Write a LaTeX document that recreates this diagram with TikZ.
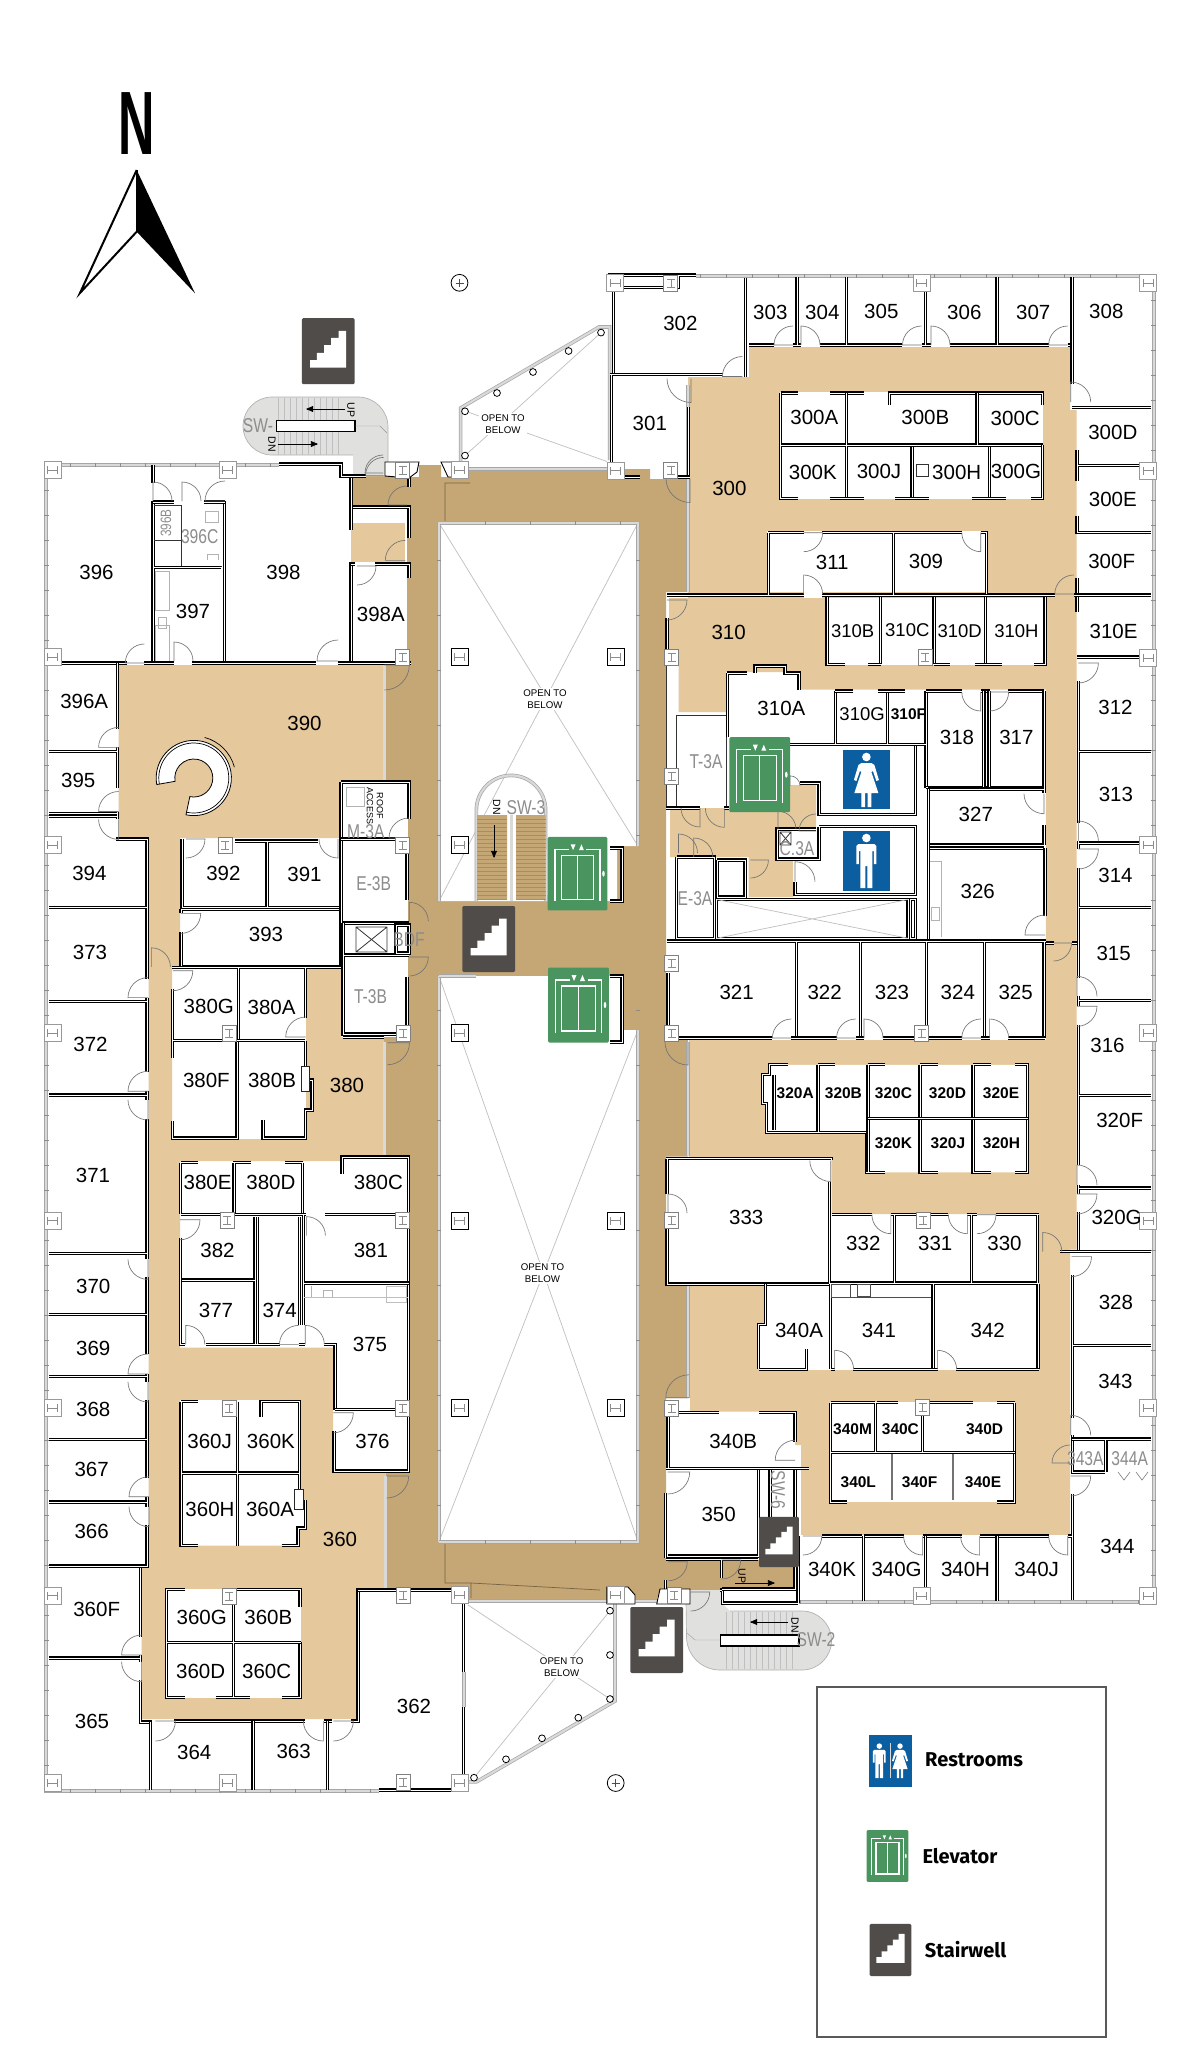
\documentclass[tikz,border=0pt]{standalone}
\usepackage{fontspec}
\setmainfont{Liberation Sans}
\newfontfamily\narrowfont[FakeStretch=0.78]{Liberation Sans}
\newfontfamily\legendfont{Fira Sans}
\usepackage{tikz}
\usetikzlibrary{arrows}
\definecolor{tanfloor}{HTML}{E5C99D}
\definecolor{brownfloor}{HTML}{C5A675}
\definecolor{stairgrey}{HTML}{504C4A}
\definecolor{elevgreen}{HTML}{4A9460}
\definecolor{restblue}{HTML}{0B5E9F}
\definecolor{stairbg}{HTML}{E0E0DE}
\tikzset{
  wall/.style={draw=black,line width=1.15,double=white,double distance=0.9},
  thinwall/.style={draw=black!80,line width=0.8},
  fixture/.style={draw=black!30,line width=0.6},
  bandline/.style={draw=brownfloor!60!black,line width=0.7},
  curtain/.style={draw=black!35,line width=0.7,double=black!15,double distance=2.2},
  tickmark/.style={draw=black!45,line width=1},
  doorline/.style={draw=black!55,line width=0.65},
  diag/.style={draw=black!25,line width=0.7},
  room/.style={inner sep=0pt,font=\fontsize{20.5}{22}\selectfont},
  roomsm/.style={inner sep=0pt,font=\fontsize{18.5}{20}\selectfont},
  roombf/.style={inner sep=0pt,font=\fontsize{15.5}{18}\selectfont\bfseries},
  tag/.style={inner sep=0pt,text=black!45,font=\fontsize{20}{22}\selectfont\narrowfont},
  openlabel/.style={inner sep=2pt,fill=white,align=center,font=\fontsize{9.7}{11.9}\selectfont},
  stairnote/.style={inner sep=0pt,font=\fontsize{10.5}{11}\selectfont},
  legendtext/.style={inner sep=0pt,anchor=west,font=\fontsize{20}{22}\selectfont\legendfont\bfseries},
}
\newcommand{\door}[5]{\draw[doorline] (#1,#2) -- ++(#3:#5) arc[start angle=#3,end angle=#4,radius=#5];}
\newcommand{\colH}[3][black!40]{\draw[fill=white,draw=#1,line width=0.8] (#2-8.5,#3-8.5) rectangle (#2+8.5,#3+8.5);
  \draw[black!45,line width=0.5] (#2-5,#3-4) -- (#2-5,#3+4) (#2+5,#3-4) -- (#2+5,#3+4) (#2-5,#3) -- (#2+5,#3);}
\newcommand{\colI}[2]{\draw[fill=white,draw=black!50,line width=0.8] (#1-7,#2-8) rectangle (#1+7,#2+8);
  \draw[black!45,line width=0.5] (#1-4,#2-4) -- (#1+4,#2-4) (#1-4,#2+4) -- (#1+4,#2+4) (#1,#2-4) -- (#1,#2+4);}
\newcommand{\ring}[2]{\draw[black,line width=0.8,fill=white] (#1,#2) circle (3.4);}
\newcommand{\stairicon}[3]{\begin{scope}[shift={(#1,#2)},scale=#3]
  \fill[stairgrey,rounded corners=1.2] (-26.3,-33) rectangle (26.3,33);
  \fill[white] (-18,16.3) -- (-18,9) -- (-11.3,9) -- (-11.3,1.7) -- (-4,1.7) -- (-4,-6) -- (3,-6) -- (3,-13.3) -- (10.3,-13.3) -- (10.3,-20.3) -- (18,-20.3) -- (18,16.3) -- cycle;
  \end{scope}}
\newcommand{\elevicon}[3]{\begin{scope}[shift={(#1,#2)},scale=#3]
  \fill[elevgreen,rounded corners=1.2] (-30.4,-37.5) rectangle (30.4,37.5);
  \draw[white,line width=1.1] (-16.7,-19) rectangle (16.7,26) (0,-19) -- (0,26);
  \draw[white,line width=1.1] (-23,28) -- (-23,-25) -- (-9,-25) (9,-25) -- (23,-25) -- (23,28);
  \fill[white] (-7,-30) -- (-2,-30) -- (-4.5,-24) -- cycle (1.5,-24) -- (6.5,-24) -- (4,-30) -- cycle;
  \fill[white] (26.5,0) ellipse (1.3 and 3);
  \end{scope}}
\newcommand{\manfig}[3]{\begin{scope}[shift={(#1,#2)},scale=#3]
  \fill[white] (0,-23) circle (4.3);
  \fill[white] (-8,-17) -- (8,-17) -- (10,-15) -- (10,3) -- (7.5,3) -- (7.5,-10) -- (6,-10) -- (6,27) -- (1,27) -- (1,5) -- (-1,5) -- (-1,27) -- (-6,27) -- (-6,-10) -- (-7.5,-10) -- (-7.5,3) -- (-10,3) -- (-10,-15) -- cycle;
  \end{scope}}
\newcommand{\womanfig}[3]{\begin{scope}[shift={(#1,#2)},scale=#3]
  \fill[white] (0,-23) circle (4.3);
  \fill[white] (-5,-17) -- (5,-17) -- (8,-15) -- (12.5,0) -- (10,1) -- (6.5,-9) -- (5,-8) -- (12,13) -- (5,13) -- (5,27) -- (1.2,27) -- (1.2,13) -- (-1.2,13) -- (-1.2,27) -- (-5,27) -- (-5,13) -- (-12,13) -- (-5,-8) -- (-6.5,-9) -- (-10,1) -- (-12.5,0) -- (-8,-15) -- cycle;
  \end{scope}}
\begin{document}
\begin{tikzpicture}[x=1pt,y=-1pt,>=triangle 45]
\useasboundingbox (0,0) rectangle (1200,2067);
\fill[white] (0,0) rectangle (1200,2067);
% floors
\fill[brownfloor] (407,477) -- (419,477) -- (419,465) -- (441,465) -- (441,477) -- (468,477) -- (468,469) -- (650,469) -- (650,479) -- (688,479) -- (688,592) -- (666,592) -- (666,1040) -- (688,1040) -- (688,1156.5) -- (666,1156.5) -- (666,1285) -- (688,1285) -- (688,1398) -- (666,1398) -- (666,1560) -- (795,1560) -- (795,1590) -- (660,1590) -- (656,1601) -- (467,1601) -- (467,1590) -- (385.5,1590) -- (385.5,1472) -- (409,1472) -- (409,1156) -- (384,1156) -- (384,1037) -- (408,1037) -- (408,782) -- (384,782) -- (384,665) -- (407,665) -- cycle;
\fill[brownfloor] (353,475) rectangle (407,507);
\draw[bandline] (445,523) -- (445,483) -- (470,483) (445,1543) -- (445,1583) -- (471,1583) -- (471,1598) (471,1583) -- (600,1590);
\fill[tanfloor] (351,523) rectangle (405,562);
\fill[tanfloor] (118.6,665) -- (384,665) -- (384,782) -- (341,782) -- (341,838) -- (180,838) -- (180,969) -- (172,969) -- (172,1139) -- (306,1139) -- (306,969) -- (341,969) -- (341,1037) -- (384,1037) -- (384,1156) -- (341,1156) -- (341,1161) -- (180,1161) -- (180,1347.6) -- (333,1347.6) -- (333,1473) -- (385.5,1473) -- (385.5,1590) -- (358,1590) -- (358,1719) -- (141.6,1719) -- (141.6,1566) -- (148.5,1566) -- (148.5,838) -- (118.6,838) -- cycle;
\fill[tanfloor] (749,347) -- (1070,347) -- (1070,410) -- (1076.5,410) -- (1076.5,1249.5) -- (1070,1249.5) -- (1070,1534.8) -- (801,1534.8) -- (801,1445) -- (795,1445) -- (795,1411.6) -- (690,1411.6) -- (690,1285) -- (764.6,1285) -- (764.6,1324.6) -- (758.8,1324.6) -- (758.8,1370) -- (1039,1370) -- (1039,1214) -- (831.5,1214) -- (831.5,1158.5) -- (689,1158.5) -- (689,1040) -- (1045.8,1040) -- (1045.8,689.7) -- (799,689.7) -- (799,672) -- (726,672) -- (726,712) -- (678.5,712) -- (678.5,653) -- (669,653) -- (669,598) -- (688,598) -- (688,377) -- (749,377) -- cycle;
\fill[tanfloor] (670,808) -- (790,808) -- (790,785) -- (816,785) -- (816,829) -- (777,829) -- (777,860) -- (793,860) -- (793,897) -- (748.5,897) -- (748.5,857) -- (670,857) -- cycle;
% rooms cut out of the floors
\fill[white] (180,1400) -- (299,1400) -- (299,1500) -- (305.7,1500) -- (305.7,1528) -- (299,1528) -- (299,1545.7) -- (180,1545.7) -- cycle;
\fill[white] (166.7,1589.3) rectangle (301,1697.7);
\fill[white] (779.9,392) rectangle (1043,499);
\fill[white] (767,530.7) rectangle (986.5,592);
\fill[white] (803.6,592) rectangle (822,598);
\fill[white] (825.8,598) rectangle (1045.8,665);
\fill[white] (769.2,1064.8) -- (1027.5,1064.8) -- (1027.5,1172.4) -- (866.7,1172.4) -- (866.7,1132.8) -- (766.5,1132.8) -- (766.5,1103.2) -- (762.6,1103.2) -- (762.6,1074.7) -- (769.2,1074.7) -- cycle;
\fill[white] (829.6,1401.7) rectangle (1015.2,1502);
% atria
\fill[white] (439,523) -- (638,523) -- (638,846) -- (617,846) -- (617,901) -- (439,901) -- cycle;
\fill[white] (439,976) -- (622,976) -- (622,1030) -- (638,1030) -- (638,1541.7) -- (439,1541.7) -- cycle;
\draw[diag] (439,523) -- (638,846) (638,523) -- (439,901);
\draw[diag] (439,976) -- (638,1541.7) (638,1030) -- (439,1541.7);
\draw[diag] (465,411) -- (607,461.5) (465,455.6) -- (601,332.6);
\draw[diag] (468,1605) -- (610,1699) (474,1777.7) -- (610,1610.7);
% stair halls
\fill[stairbg] (272,397) -- (358,397) arc[start angle=270,end angle=360,radius=30] -- (388,476) -- (353,476) -- (353,455) -- (272,455) arc[start angle=90,end angle=270,radius=29] -- cycle;
\draw[black!30,line width=0.7] (272,397) -- (358,397) arc[start angle=270,end angle=360,radius=30] -- (388,476) (353,455) -- (272,455) arc[start angle=90,end angle=270,radius=29];
\foreach \t in {278,284,...,343} \draw[black!25,line width=0.5] (\t,398) -- (\t,455);
\draw[fill=white,draw=black,line width=1.4] (276.7,420.7) rectangle (355,431.7);
\draw[black!40] (355,426) -- (380,426) -- (387,433);
\fill[stairbg] (690,1590) -- (722,1590) -- (722,1603) -- (730,1611) -- (802,1611) arc[start angle=270,end angle=450,radius=29.5] -- (720,1670) arc[start angle=90,end angle=180,radius=33.5] -- (686,1600) -- cycle;
\draw[black!30,line width=0.7] (730,1611) -- (802,1611) arc[start angle=270,end angle=450,radius=29.5] -- (720,1670) arc[start angle=90,end angle=180,radius=33.5] -- (686,1600);
\foreach \t in {726,732,...,797} \draw[black!25,line width=0.5] (\t,1612) -- (\t,1669);
\draw[fill=white,draw=black,line width=1.4] (720.5,1635) rectangle (799,1646);
\draw[black!40] (720,1640) -- (695,1640) -- (687,1633);
% centre stair
\draw[curtain] (476.4,901) -- (476.4,810) arc[start angle=180,end angle=360,radius=34.6] -- (545.7,901);
\fill[brownfloor] (477,815) rectangle (507,899.5) (516,815) rectangle (545.7,899.5);
\foreach \t in {819,823,...,899} \draw[brownfloor!85!black,line width=0.3] (477,\t) -- (507,\t) (516,\t) -- (545.7,\t);
\draw[curtain] (511.5,815) -- (511.5,901);
\draw[->,line width=0.6] (494,825) -- (494,858);
% curtain walls
\draw[curtain] (46,465) -- (279,465) (46,465) -- (46,1791) -- (378.8,1791);
\draw[curtain] (696,276) -- (1154,276) -- (1154,1602) -- (799,1602);
\draw[curtain] (460.6,463) -- (460.6,408) -- (599,327) -- (609.6,327) -- (609.6,460);
\draw[curtain] (615,1604) -- (615,1701) -- (476.7,1781.7) -- (467,1781.7);
\draw[curtain] (439,1541.7) -- (439,976) (439,901) -- (439,523) -- (638,523) -- (638,846);
\draw[curtain] (439,976) -- (476,976) (439,1541.7) -- (638,1541.7) -- (638,1030);
\draw[curtain] (384.5,665) -- (384.5,782) (384.5,1042) -- (384.5,1156) (385.5,1476) -- (385.5,1590);
\draw[curtain] (688,385) -- (688,592) (688,1042) -- (688,1156) (688,1285) -- (688,1398);
\draw[curtain] (468,469) -- (607,469) (468,1601) -- (607,1601) (635,1601) -- (657,1601);
\foreach \t in {490,515,...,1780} \draw[tickmark] (44,\t) -- (49,\t);
\foreach \t in {300,325,...,1590} \draw[tickmark] (1151,\t) -- (1156,\t);
\foreach \t in {70,95,...,270} \draw[tickmark] (\t,463) -- (\t,467);
\foreach \t in {70,95,...,370} \draw[tickmark] (\t,1789) -- (\t,1793);
\foreach \t in {700,726,...,1150} \draw[tickmark] (\t,274) -- (\t,278);
\foreach \t in {800,826,...,1150} \draw[tickmark] (\t,1600) -- (\t,1604);
\foreach \t in {560,615,...,840,1010,1065,...,1530} \draw[tickmark] (437,\t) -- (441,\t) (636,\t) -- (640,\t);
\foreach \t in {485,530,...,620} \draw[tickmark] (\t,521) -- (\t,525) (\t,1540) -- (\t,1544);
% fixtures
\draw[fixture] (155,571) rectangle (169,610) (155,625) rectangle (169,661) (158,617) rectangle (166,628);
\draw[fixture] (205,511) rectangle (218,522) (207,560) -- (207,554) -- (218,554) -- (218,560);
\draw[fixture] (929,861) -- (941,861) -- (941,937) (931,907) rectangle (939,920);
\draw[fixture] (346,787) rectangle (364,806);
\draw[fixture] (323,1290) rectangle (332,1297) (311,1286) -- (311,1297);
% west wing walls
\draw[wall] (279,464) -- (341,464) -- (341,476) -- (351,476) -- (351,530);
\draw[wall] (351,562) -- (351,663);
\draw[wall] (351,564) -- (355,564) (375,564) -- (409,564) -- (409,578);
\draw[wall] (353,507) -- (409,507) -- (409,538) (409,475) -- (409,487);
\draw[wall] (351,476) -- (366,476);
\draw[wall] (46,663) -- (126.5,663) (144,663) -- (174,663) (192,663) -- (316,663) (338,663) -- (411,663);
\draw[wall] (153,465) -- (153,483) (153,501) -- (153,661) (224.6,501) -- (224.6,661);
\draw[wall] (153,502) -- (174,502) (203.6,502) -- (224.6,502);
\draw[thinwall] (154,505) -- (181,505) -- (181,540.6) -- (154,540.6) (181,540) -- (181,566) -- (222,566);
\draw[wall] (154,567.5) -- (221,567.5);
\draw[wall] (117.4,663) -- (117.4,728.5) (117.4,747.4) -- (117.4,787.8) (117.4,811.5) -- (117.4,819.4);
\draw[wall] (49,751.4) -- (117,751.4) (49,813.5) -- (117,813.5) (49,816.6) -- (117,816.6);
\draw[wall] (116,839) -- (147,839) -- (147,978.6);
\draw[wall] (147,997.6) -- (147,1072) (147,1091) -- (147,1100) (147,1119) -- (147,1259.4) (147,1277) -- (147,1353.5) (147,1374) -- (147,1382) (147,1400) -- (147,1478) (147,1497) -- (147,1507) (147,1525) -- (147,1566) -- (140.4,1566);
\draw[wall] (140.4,1566) -- (140.4,1637) (140.4,1655) -- (140.4,1662) (140.4,1680) -- (140.4,1722) -- (152,1722);
\draw[wall] (174,1721) -- (304.5,1721) (323.5,1721) -- (332,1721) (351,1721) -- (358,1721) -- (358,1590) -- (385.5,1590);
\draw[wall] (49,907.4) -- (147,907.4) (49,1001.6) -- (147,1001.6) (49,1095) -- (147,1095) (49,1253.4) -- (147,1253.4) (49,1314.7) -- (147,1314.7) (49,1376.8) -- (147,1376.8) (49,1439.3) -- (147,1439.3) (49,1502) -- (147,1502) (49,1566) -- (147,1566) (49,1658) -- (140,1658);
\draw[wall] (150.6,1722) -- (150.6,1790) (253,1721) -- (253,1790) (327.4,1721) -- (327.4,1790);
% 392 to T-3B
\draw[wall] (182,839) -- (182,861) (182,861) -- (182,907.4) -- (341,907.4) (267,841) -- (267,907.4) (235,841) -- (318,841);
\draw[wall] (181,909.4) -- (341,909.4) (181,909.4) -- (181,913) (181,932) -- (181,967) -- (341,967);
\draw[wall] (341,838) -- (341,969) (341,782) -- (409,782) -- (409,819.4) (341,782) -- (341,838);
\draw[wall] (341,839) -- (409,839) (343,923) -- (409,923) (407,839) -- (407,899.5);
\draw[wall] (343,955) -- (409,955) (343,923) -- (343,955) (343,955) -- (343,1034) -- (407,1034) -- (407,977);
\draw[thinwall] (356,927) rectangle (387,952) (356,927) -- (387,952) (387,927) -- (356,952);
\draw[wall] (396,925) rectangle (409,953);
\draw[wall] (343,1037) -- (384,1037);
% 380 group
\draw[wall] (172,967.5) -- (341,967.5) (238.4,967.5) -- (238.4,1040) (305.2,967.5) -- (305.2,1018);
\draw[wall] (172.8,988.5) -- (172.8,1057.7) (172.8,1121) -- (172.8,1138) -- (237,1138) -- (237,1040);
\draw[wall] (172.8,1040.7) -- (305.2,1040.7) (263,1120) -- (263,1138) -- (305.2,1138) -- (305.2,1110) -- (312,1110) -- (312,1080) -- (308,1080);
\draw[wall] (305.2,1040.7) -- (305.2,1066);
\draw[fill=white,draw=black!85,line width=0.8] (301,1066) rectangle (309,1091);
\draw[wall] (180.7,1162.5) -- (198,1162.5) (233,1162.5) -- (251,1162.5) (285,1162.5) -- (302.5,1162.5);
\draw[wall] (180.7,1162.5) -- (180.7,1214) (180.7,1237.6) -- (180.7,1344.4) -- (185,1344.4) (205.6,1344.4) -- (279.6,1344.4);
\draw[wall] (234,1162.5) -- (234,1214) (302.5,1162.5) -- (302.5,1214);
\draw[wall] (180.7,1214.7) -- (306,1214.7) (325,1214.7) -- (408.5,1214.7);
\draw[wall] (342,1174) -- (342,1157) -- (408.5,1157) -- (408.5,1409.6);
\draw[wall] (303.7,1214.7) -- (303.7,1325) (303.7,1283) -- (408.5,1283);
\draw[wall] (255,1217) -- (255,1344) (182,1280) -- (255,1280) (299.3,1217) -- (299.3,1325) (257,1217) -- (257,1344);
\draw[wall] (298.5,1344.4) -- (305.3,1344.4) (324,1344.4) -- (335,1344.4) -- (335,1409.6);
\draw[wall] (335,1409.6) -- (408.5,1409.6) -- (408.5,1471) -- (334,1471) -- (334,1431);
\draw[black!25,line width=0.6] (304,1297) -- (408,1297) (386,1286) rectangle (406,1302);
% 360 block
\draw[wall] (181,1401.7) -- (198,1401.7) (261,1417) -- (261,1401.7) -- (299.3,1401.7) -- (299.3,1489);
\draw[wall] (181,1401.7) -- (181,1545.7) -- (198,1545.7) (237.2,1401.7) -- (237.2,1545.7) (181,1473) -- (298.5,1473);
\draw[wall] (281.7,1545.7) -- (298,1545.7) -- (298,1528) -- (305.7,1528) -- (305.7,1500);
\draw[fill=white,draw=black!85,line width=0.8] (294.6,1489) rectangle (303.7,1509);
\draw[wall] (185,1589.3) -- (166.7,1589.3) -- (166.7,1697.7) -- (185,1697.7);
\draw[wall] (223,1589.3) -- (300,1589.3) -- (300,1607) (300,1642) -- (300,1697.7) -- (282,1697.7);
\draw[wall] (166.7,1642.7) -- (301,1642.7) (233.3,1589.3) -- (233.3,1697.7) (215.7,1697.7) -- (250,1697.7);
% 362
\draw[wall] (358,1590) -- (467,1590);
\draw[wall] (463.8,1603) -- (463.8,1672) (463.8,1706.7) -- (463.8,1776.7);
\draw[curtain] (463.8,1672) -- (463.8,1706.7);
\draw[wall] (378.8,1790) -- (467.8,1790);
% north-east rooms
\draw[wall] (607.6,275) -- (696,275) (678.5,275) -- (678.5,287.6) -- (613.4,287.6) -- (613.4,372.6);
\draw[wall] (745.4,277.7) -- (745.4,376.5) (609.6,374.6) -- (723,374.6);
\draw[wall] (611.5,375) -- (611.5,465) (688.8,407) -- (688.8,475);
\draw[wall] (610,477) -- (640,477) (665,477) -- (690,477);
\draw[wall] (749,345) -- (774,345) (793,345) -- (801,345) (820,345) -- (902.3,345) (921.5,345) -- (931,345) (950,345) -- (1048.5,345) (1067.7,345) -- (1072,345);
\draw[wall] (797,277) -- (797,345) (846.8,277) -- (846.8,345) (925.3,277) -- (925.3,345) (997,277) -- (997,345) (1072,277) -- (1072,384.4);
\draw[wall] (1072,407.4) -- (1151,407.4) (1077,450) -- (1077,481) (1077,465.5) -- (1151,465.5) (1077,515.7) -- (1077,532.7) -- (1151,532.7);
\draw[wall] (1077,578) -- (1077,612);
\draw[wall] (667,595) -- (803.6,595) (822,595) -- (1055.4,595) (1073.8,595) -- (1151,595);
\draw[wall] (1077,657) -- (1151,657) (1078.4,681) -- (1078.4,822.6) (1078.4,751.4) -- (1151,751.4) (1078.4,841) -- (1078.4,849) (1078.4,843) -- (1151,843);
\draw[wall] (1078.4,868) -- (1078.4,978) (1078.4,907.5) -- (1151,907.5) (1078.4,996.4) -- (1078.4,1006) (1078.4,1000.4) -- (1151,1000.4) (1078.4,1025) -- (1078.4,1165) (1078.4,1095.3) -- (1151,1095.3);
\draw[wall] (1078.4,1185) -- (1078.4,1194) (1078.4,1188) -- (1151,1188) (1078.4,1212) -- (1078.4,1249.5) (1060,1251.5) -- (1151,1251.5);
\draw[wall] (1072.6,1275) -- (1072.6,1417.5) (1072.6,1345.6) -- (1151,1345.6) (1072.6,1435) -- (1072.6,1472) -- (1105,1472);
\draw[wall] (1072,1439) -- (1151,1439) (1105.9,1439) -- (1105.9,1472) (1072.6,1494) -- (1072.6,1600);
\draw[black!50,line width=0.6] (1118,1472) -- (1124,1480) -- (1130,1472) (1136,1472) -- (1142,1480) -- (1148,1472);
\draw[wall] (822,1536) -- (862,1536) (864,1536) -- (904,1536) (923.4,1536) -- (961.6,1536) (979.6,1536) -- (1048.5,1536) (1067.7,1536) -- (1072,1536);
\draw[wall] (863.3,1536) -- (863.3,1601) (925.3,1536) -- (925.3,1601) (997,1536) -- (997,1601) (798,1536) -- (798,1603);
% 300 block
\draw[wall] (780.6,393) -- (798,393) (830,393) -- (864,393) (889.7,405) -- (889.7,393) -- (1042.8,393) -- (1042.8,405);
\draw[wall] (780.6,393) -- (780.6,498.3) -- (798,498.3) (846.8,393) -- (846.8,498.3) (780.6,445) -- (1043,445) (977,393) -- (977,445);
\draw[wall] (1042.8,445) -- (1042.8,498.3) -- (1031,498.3) (912,447) -- (912,498.3) (989.2,447) -- (989.2,498.3);
\draw[wall] (830,498.3) -- (864,498.3) (895,498.3) -- (929,498.3) (972,498.3) -- (1006,498.3);
\draw[thinwall] (916,464.5) rectangle (928,476.5);
% 311 block
\draw[wall] (768.4,532.7) -- (803.6,532.7) (822,532.7) -- (961.6,532.7) (980.8,532.7) -- (986.5,532.7) -- (986.5,594);
\draw[wall] (768.4,532.7) -- (768.4,595) (893.5,532.7) -- (893.5,595);
% 310 block
\draw[wall] (827,597) -- (827,664.4) -- (845,664.4) (880.5,597) -- (880.5,664.4) (934,597) -- (934,664.4) (985.4,597) -- (985.4,664.4) (1045,597) -- (1045,664.4) -- (1034,664.4);
\draw[wall] (868,664.4) -- (880.5,664.4) (934,664.4) -- (950,664.4) (975,664.4) -- (1002,664.4);
\draw[wall] (667,618) -- (667,655);
\draw[thinwall] (666,655) -- (666,808) (676.5,805.5) -- (676.5,715.8) -- (726.3,715.8) -- (726.3,805.5);
\draw[wall] (666,808) -- (700,808) (724.4,808) -- (729,808);
% 310A and washrooms
\draw[wall] (727.4,673) -- (747,673) (727.4,673) -- (727.4,737) (755,673) -- (755,666) -- (785,666) -- (785,673) -- (799,673) -- (799,690);
\draw[wall] (790,744.3) -- (926,744.3) (835.4,691) -- (835.4,744) (887.8,691) -- (887.8,744) (926,691) -- (926,787.5);
\draw[wall] (835.4,691) -- (852.6,691) (877.5,691) -- (905.4,691) (926,691) -- (961.6,691) (980.8,691) -- (989.6,691) (1008,691) -- (1044,691);
\draw[wall] (926,787.5) -- (1044,787.5) (983.9,691) -- (983.9,787) (989,691) -- (989,787) (1044,691) -- (1044,793);
\draw[wall] (1044,825) -- (1044,845) (928.4,789) -- (1044,789) (928.4,845) -- (1044,845) (928.4,848) -- (1044,848);
\draw[wall] (928.4,789) -- (928.4,939) (1045,848) -- (1045,916);
\draw[wall] (915.7,746) -- (915.7,814.3) -- (819,814.3) -- (819,783) -- (800,783);
\draw[wall] (819,826.5) -- (915.7,826.5) -- (915.7,894.8) -- (795,894.8) -- (795,882);
\draw[wall] (819,826.5) -- (819,859) -- (777,859) -- (777,829) -- (816,829);
\draw[thinwall] (780,832) rectangle (791,845) (780,832) -- (791,845) (791,832) -- (780,845);
% shaft and E-3A
\draw[wall] (676.5,857) -- (714.8,857) -- (714.8,938.3) -- (676.5,938.3) -- (676.5,857);
\draw[wall] (716.7,899.5) rectangle (908,938.3);
\draw[diag] (716.7,938.3) -- (908,899.5) (716.7,899.5) -- (908,938.3);
\draw[wall] (910.8,899.5) rectangle (915.7,938.3);
\draw[wall] (717,860) -- (745,860) -- (745,897) -- (717,897) -- (717,860);
% row 321 to 325
\draw[wall] (667,941) -- (1045.8,941) (796.3,941) -- (796.3,1038) (860.2,941) -- (860.2,1038) (926.4,941) -- (926.4,1038) (984.6,941) -- (984.6,1038) (1044,941) -- (1044,1038);
\draw[wall] (668,972.7) -- (668,1038) -- (772,1038) (791.4,1038) -- (836.5,1038) (855.6,1038) -- (864,1038) (883,1038) -- (961.6,1038) (980.8,1038) -- (989.6,1038) (1008,1038) -- (1045,1038);
\draw[wall] (1045.8,943) -- (1053.5,943) (1072,943) -- (1077,943);
% 320 block
\draw[wall] (788,1064.8) -- (769.2,1064.8) -- (769.2,1074.7) -- (762.6,1074.7) -- (762.6,1103.2) -- (766.5,1103.2) -- (766.5,1132.8) -- (866.7,1132.8) -- (866.7,1172.4) -- (885,1172.4);
\draw[wall] (774,1075) -- (774,1130) (818,1064.8) -- (835,1064.8) (818,1064.8) -- (818,1132) (868,1064.8) -- (885,1064.8) (868,1064.8) -- (868,1172);
\draw[wall] (920,1064.8) -- (938,1064.8) (920,1064.8) -- (920,1172.4) -- (938,1172.4);
\draw[wall] (973,1064.8) -- (991,1064.8) (973,1064.8) -- (973,1172.4) -- (991,1172.4);
\draw[wall] (1015,1064.8) -- (1027.5,1064.8) -- (1027.5,1172.4) -- (1015,1172.4);
\draw[wall] (868,1118.5) -- (1027.5,1118.5);
% 333 group
\draw[wall] (666,1158.5) -- (831.5,1158.5) -- (831.5,1160) (667,1158.5) -- (667,1194) (667,1213) -- (667,1284) -- (829.6,1284) -- (829.6,1182);
\draw[wall] (831.5,1214.7) -- (872,1214.7) (891,1214.7) -- (948,1214.7) (967,1214.7) -- (977,1214.7) (996,1214.7) -- (1039,1214.7);
\draw[wall] (894.7,1214.7) -- (894.7,1283) (971.2,1214.7) -- (971.2,1283) (1037.4,1214.7) -- (1037.4,1283) (830,1283) -- (1038,1283);
\draw[wall] (830.8,1284) -- (830.8,1369.3) (933,1284) -- (933,1369.3) (1038,1284) -- (1038,1369.3);
\draw[wall] (758.8,1369.3) -- (806.7,1369.3) -- (806.7,1349) (830.8,1369.3) -- (834.6,1369.3) (853,1369.3) -- (937.6,1369.3) (956,1369.3) -- (1039,1369.3);
\draw[wall] (765.3,1284) -- (765.3,1324.6) -- (758.8,1324.6) -- (758.8,1369.3);
\draw[black!70,line width=0.6] (831,1297) -- (931,1297) (831,1297) rectangle (850,1284) (857,1284) rectangle (870,1296);
% 340 block
\draw[wall] (830.8,1402.6) -- (875,1402.6) (877,1402.6) -- (898,1402.6) (925,1402.6) -- (973,1402.6) (997,1402.6) -- (1014.5,1402.6);
\draw[wall] (830.8,1402.6) -- (830.8,1502) -- (847,1502) (1014.5,1402.6) -- (1014.5,1502) -- (997,1502);
\draw[wall] (830.8,1452.3) -- (1014.5,1452.3) (875.5,1402.6) -- (875.5,1452) (922.6,1402.6) -- (922.6,1452);
\draw[black!55,line width=1.4] (892,1454) -- (892,1500) (952.9,1454) -- (952.9,1500);
% 340B 350 and lobby
\draw[wall] (666,1412.8) -- (719,1412.8) (759,1412.8) -- (795,1412.8) -- (795,1442);
\draw[wall] (668,1412.8) -- (668,1468.5) (666,1468.5) -- (808.6,1468.5);
\draw[wall] (665.8,1493) -- (665.8,1558) (665.8,1580) -- (665.8,1591) (758.8,1470) -- (758.8,1556) -- (668,1556);
\draw[wall] (770,1470) -- (770,1520) (795,1470) -- (795,1520);
\draw[wall] (666,1559) -- (758,1559) (721.7,1560) -- (721.7,1578) (720,1590) -- (722.5,1590) -- (722.5,1603) -- (798,1603);
\draw[wall] (795,1560) -- (795,1589) -- (722,1589);
\draw[fill=white,draw=black,line width=0.9] (606.9,1587) -- (628,1587) -- (635,1595) -- (635,1604) -- (606.9,1604) -- cycle;
\draw[fill=white,draw=black,line width=0.9] (660,1589) -- (690,1589) -- (690,1604) -- (656.7,1604) -- cycle;
\draw[fill=white,draw=black,line width=0.9] (385,462) -- (419,462) -- (417,472) -- (409,478) -- (385,476) -- cycle;
\draw[fill=white,draw=black,line width=0.9] (441,462) -- (468,462) -- (468,477) -- (448,477) -- cycle;
% elevator side walls
\draw[wall] (610,848) -- (622,848) -- (622,901) -- (610,901);
\draw[wall] (610,976) -- (622,976) -- (622,1042) -- (610,1042);
% spiral stair
\draw[fill=white,draw=black,line width=0.8] (193.8,778) ++(170:37.6) arc[start angle=170,end angle=462,radius=37.6] -- ++(282:18.6) arc[start angle=462,end angle=170,radius=19] -- cycle;
\draw[black,line width=0.7] (193.8,778) ++(170:35) arc[start angle=170,end angle=462,radius=35];
\draw[black,line width=0.7] (193.8,778) ++(285:42) arc[start angle=285,end angle=345,radius=42];
% doors
\door{153}{501}{270}{360}{19}\door{182}{501}{270}{360}{19}\door{225}{501}{180}{270}{20}
\door{144.3}{663}{180}{270}{19}\door{174}{661}{270}{360}{19}\door{338}{661}{180}{270}{21}
\door{357}{566}{0}{90}{19}\door{407}{505}{180}{270}{19}\door{405.3}{560.4}{180}{270}{20}
\door{383.6}{475.4}{180}{270}{18}\door{384.3}{665}{0}{90}{25}
\door{118.6}{747.4}{180}{270}{20}\door{118.6}{811.5}{180}{270}{20}\door{118.6}{819.4}{90}{180}{20}
\door{409}{838}{180}{270}{20}\door{186}{839}{0}{90}{19}\door{338}{839}{90}{180}{19}
\door{180.7}{913.4}{0}{90}{20}\door{151.4}{966.8}{270}{360}{19}
\door{148}{997.6}{180}{270}{20}\door{148}{1091.3}{180}{270}{20}\door{148}{1100}{90}{180}{20}
\door{148}{1259.4}{90}{180}{20}\door{148}{1374}{180}{270}{20}\door{148}{1382}{90}{180}{20}
\door{172.8}{970.7}{0}{90}{20}\door{305.7}{1037}{180}{270}{20}
\door{409.3}{921.3}{270}{360}{19}\door{409.3}{957}{0}{90}{19}\door{387.5}{1042.7}{0}{90}{22}
\door{180}{1219.8}{0}{90}{20}\door{306.4}{1235.6}{270}{360}{19}
\door{185.8}{1344.4}{270}{360}{19}\door{298.5}{1344.4}{180}{270}{19}\door{305.3}{1344.4}{270}{360}{19}
\door{333.3}{1412.8}{0}{90}{20}
\door{149}{1496.7}{180}{270}{20}\door{149}{1506.7}{90}{180}{20}\door{386.7}{1476}{0}{90}{22}
\door{141.6}{1655}{180}{270}{20}\door{141.6}{1661.7}{90}{180}{20}
\door{155.4}{1721}{0}{90}{20}\door{323.4}{1721}{90}{180}{20}\door{333.3}{1721}{0}{90}{20}
\door{742.4}{376.5}{180}{270}{20}\door{691}{378.5}{90}{180}{24}
\door{793}{345}{180}{270}{19}\door{801}{345}{270}{360}{19}\door{921.5}{345}{180}{270}{19}\door{931}{345}{270}{360}{19}\door{1067.7}{345}{180}{270}{19}
\door{1070.7}{402}{270}{360}{20}\door{690}{478.5}{90}{180}{24}
\door{803.6}{532.7}{0}{90}{19}\door{980.8}{532.7}{90}{180}{19}\door{803.6}{594}{270}{360}{19}\door{1073.8}{594}{180}{270}{19}
\door{667}{600}{0}{90}{20}\door{980.8}{692}{90}{180}{19}\door{989.6}{692}{0}{90}{19}
\door{1078.4}{663}{0}{90}{20}\door{1044}{793.7}{90}{180}{20}\door{1078.4}{841}{270}{360}{20}\door{1078.4}{849}{0}{90}{20}
\door{790}{785.8}{270}{360}{10}\door{778}{829.3}{270}{360}{18}\door{816}{831}{180}{270}{17}
\door{724.4}{808.3}{90}{180}{19}\door{700}{808}{90}{180}{19}\door{678.5}{853}{270}{360}{19}\door{693.8}{857}{270}{360}{19}
\door{750.4}{860}{0}{90}{18}\door{795}{881.7}{270}{360}{20}
\door{1045}{935}{180}{270}{20}\door{1053.5}{943}{0}{90}{18}\door{1077}{996.4}{270}{360}{20}\door{1077}{1006.3}{0}{90}{20}
\door{791.4}{1038}{180}{270}{19}\door{855.6}{1038}{180}{270}{19}\door{864}{1038}{270}{360}{19}\door{980.8}{1038}{180}{270}{19}\door{989.6}{1038}{270}{360}{19}
\door{688}{1042}{90}{180}{23}\door{830.8}{1160.5}{90}{180}{21}\door{1077}{1185}{270}{360}{20}\door{1077}{1194}{0}{90}{20}
\door{668}{1213}{270}{360}{19}\door{890.9}{1214.7}{90}{180}{19}\door{967.4}{1214.7}{90}{180}{19}\door{977}{1214.7}{0}{90}{19}
\door{1042.8}{1251.5}{270}{360}{19}\door{1071.5}{1256.6}{0}{90}{20}\door{834.6}{1369.3}{270}{360}{19}\door{937.6}{1369.3}{270}{360}{19}
\door{1070.7}{1435.3}{270}{360}{20}\door{795.2}{1460.2}{180}{270}{20}\door{688.8}{1397.8}{180}{270}{23}\door{1070}{1463}{180}{270}{18}
\door{667.7}{1472}{0}{90}{22}\door{802.8}{1536}{0}{90}{19}\door{922.6}{1536}{90}{180}{19}\door{979.6}{1536}{90}{180}{19}\door{1067.7}{1536}{90}{180}{19}
\door{1070.7}{1476}{0}{90}{20}\door{668.3}{1561.7}{0}{90}{19}\door{721.7}{1560}{0}{90}{19}\door{690.7}{1592}{0}{90}{19}\door{383}{473}{180}{270}{18}
% columns
\colH{52.6}{470}\colH{52.6}{657}\colH{52.6}{845}\colH{52.6}{1033}\colH{52.6}{1220.6}\colH{52.6}{1408}\colH{52.6}{1595.7}\colH{52.6}{1783}
\colH{227.4}{470}\colH{227.4}{1783}
\colH[black]{459.5}{657}\colH[black]{615.5}{657}\colH[black]{459.5}{845}
\colH[black]{459.5}{1033}\colH[black]{459.5}{1220.6}\colH[black]{615.5}{1220.6}\colH[black]{459.5}{1408}\colH[black]{615.5}{1408}
\colH{459.5}{470}\colH{615.5}{470.6}\colH{459.5}{1595}\colH{615.5}{1595}\colH{459.5}{1783}
\colH{615}{283}\colH{921.5}{283}\colH{1148}{283}\colH{1148}{470.6}\colH{1148}{658}\colH{1148}{845}\colH{1148}{1032.8}\colH{1148}{1220.6}\colH{1148}{1408}\colH{1148}{1596}\colH{921.5}{1596}
\colI{402.5}{470}\colI{402.5}{657}\colI{402.5}{845}\colI{225.4}{845}\colI{229.3}{1033}\colI{403}{1033}
\colI{227.4}{1220.6}\colI{402.5}{1220.6}\colI{229.3}{1408}\colI{402.5}{1408}\colI{229.3}{1596}\colI{403}{1595}\colI{403}{1782}
\colI{670.8}{283}\colI{670.8}{470.6}\colI{671.6}{657}\colI{671.6}{776}\colI{671.6}{963.6}\colI{671.6}{1033}\colI{671.6}{1220.6}\colI{671.6}{1408}
\colI{925.3}{657}\colI{921.5}{1033}\colI{923.4}{1220.6}\colI{922.6}{1407.7}\colI{674}{1595}
% column rings and lamps
\draw[black,line width=0.8] (459.5,282.8) circle (8.4) (615.7,1783) circle (8.4);
\draw[black!70,line width=0.5] (455.5,282.8) -- (463.5,282.8) (611.7,1783) -- (619.7,1783) (459.5,279) -- (459.5,286.6) (615.7,1779) -- (615.7,1787);
\ring{465}{411.3}\ring{497}{393}\ring{533}{372}\ring{568.6}{351}\ring{601}{332.6}\ring{465}{455.6}
\ring{610}{1610.7}\ring{610}{1655}\ring{610}{1699}\ring{578.3}{1717.7}\ring{542}{1738.3}\ring{506}{1759.3}\ring{474}{1777.7}
% stair arrows
\draw[->,line width=0.6] (345,409) -- (306,409);
\draw[->,line width=0.6] (278,444) -- (318,444);
\draw[->,line width=0.6] (787.5,1622) -- (750,1622);
\draw[->,line width=0.6] (735,1583) -- (775,1583);
% compass
\draw[black,line width=2,line join=miter] (136.7,170) -- (80,293) -- (136.7,231.7);
\fill[black] (136.7,170) -- (195,293.3) -- (136.7,231.7) -- cycle;
\draw[black,line width=2] (136.7,170) -- (136.7,231.7);
\node[inner sep=0pt,xscale=.56,font=\fontsize{90}{90}\selectfont\bfseries] (north) at (136.7,124) {N};
% icons
\stairicon{328.2}{351.2}{1}
\stairicon{488.7}{939}{1}
\stairicon{656.7}{1640}{1}
\stairicon{779}{1542}{.76}
\elevicon{759.8}{774.7}{1}
\elevicon{577.5}{873.7}{.98}
\elevicon{578.5}{1005}{1}
\fill[restblue] (843,750) rectangle (889.7,808.7);
\womanfig{866.4}{780}{1}
\fill[restblue] (843,831) rectangle (889.7,891);
\manfig{866.4}{861}{1}
% legend
\draw[black!65,line width=2.2] (816.7,1686.7) rectangle (1106,2036.7);
\fill[restblue] (869.3,1735) rectangle (911.7,1786.7);
\manfig{879.3}{1760.8}{.64}
\womanfig{900}{1760.8}{.64}
\draw[white!85!black,line width=.9] (890,1743) -- (890,1778);
\elevicon{887.5}{1856}{.69}
\stairicon{890.5}{1950}{.79}
\node[legendtext] (restrooms) at (925,1760) {Restrooms};
\node[legendtext] (elevator) at (922.3,1855.7) {Elevator};
\node[legendtext] (stairwell) at (924.7,1949.3) {Stairwell};
% open to below
\node[openlabel] (openup) at (545,699) {OPEN TO\\BELOW};
\node[openlabel] (opendown) at (542.5,1273) {OPEN TO\\BELOW};
\node[openlabel] (opennorth) at (503,424) {OPEN TO\\BELOW};
\node[openlabel] (opensouth) at (561.7,1667) {OPEN TO\\BELOW};
% grey tags
\node[tag] (swone) at (258,426) {SW-};
\node[tag] (swtwo) at (816,1640) {SW-2};
\node[tag] (swthree) at (526,808) {SW-3};
\node[tag,rotate=-90] (swsix) at (778,1490) {SW-6};
\node[tag] (m3a) at (365.8,832) {M-3A};
\node[tag] (e3b) at (373.7,883.7) {E-3B};
\node[tag] (t3b) at (370.5,996.4) {T-3B};
\node[tag] (bdf) at (409,940) {BDF};
\node[tag] (r396c) at (199.7,536.7) {396C};
\node[tag,rotate=90,font=\fontsize{15}{16}\selectfont\narrowfont] (r396b) at (166,523) {396B};
\node[tag] (t3a) at (706,762) {T-3A};
\node[tag] (e3a) at (695,898.7) {E-3A};
\node[tag] (c3a) at (797,849) {C.3A};
\node[tag] (r343a) at (1085.3,1458.3) {343A};
\node[tag] (r344a) at (1129.7,1458.3) {344A};
\node[stairnote,rotate=-90] (upone) at (351,410) {UP};
\node[stairnote,rotate=-90] (dnone) at (272,444) {DN};
\node[stairnote,rotate=-90] (dnthree) at (496.7,807.5) {DN};
\node[stairnote,rotate=-90] (uptwo) at (742,1576) {UP};
\node[stairnote,rotate=-90] (dntwo) at (795,1625) {DN};
\node[stairnote,rotate=-90,align=center,font=\fontsize{9}{10}\selectfont] (roof) at (375,805.5) {ROOF\\ACCESS};
% room numbers
\node[room] (r396) at (96.5,572) {396};
\node[room] (r397) at (193,611) {397};
\node[room] (r398) at (283.5,572) {398};
\node[room] (r398a) at (380.8,614.6) {398A};
\node[room] (r396a) at (84.2,701.6) {396A};
\node[room] (r395) at (78.3,780) {395};
\node[room] (r390) at (304.5,723.3) {390};
\node[room] (r394) at (89.4,873) {394};
\node[room] (r392) at (223.4,873.4) {392};
\node[room] (r391) at (304.5,874.6) {391};
\node[room] (r393) at (266,934.3) {393};
\node[room] (r373) at (90,952) {373};
\node[room] (r380g) at (208.8,1006.7) {380G};
\node[room] (r380a) at (271.6,1007.5) {380A};
\node[room] (r372) at (90.5,1044.7) {372};
\node[room] (r380f) at (206.4,1080) {380F};
\node[room] (r380b) at (272,1080) {380B};
\node[room] (r380) at (347,1085.4) {380};
\node[room] (r380e) at (207.6,1182.7) {380E};
\node[room] (r380d) at (270.9,1182.7) {380D};
\node[room] (r380c) at (378.4,1182.7) {380C};
\node[room] (r371) at (93,1175.5) {371};
\node[room] (r382) at (217.5,1250.7) {382};
\node[room] (r381) at (370.9,1250.7) {381};
\node[room] (r370) at (93.3,1286) {370};
\node[room] (r377) at (216,1310) {377};
\node[room] (r374) at (279.6,1310) {374};
\node[room] (r369) at (93.3,1348.3) {369};
\node[room] (r375) at (370,1344.4) {375};
\node[room] (r368) at (93.3,1409.6) {368};
\node[room] (r360j) at (209.6,1441.3) {360J};
\node[room] (r360k) at (270.9,1441.3) {360K};
\node[room] (r376) at (372.5,1441.3) {376};
\node[room] (r367) at (91.7,1469) {367};
\node[room] (r366) at (91.7,1531) {366};
\node[room] (r360h) at (210,1509) {360H};
\node[room] (r360a) at (270,1509) {360A};
\node[room] (r360) at (340,1539.3) {360};
\node[room] (r360f) at (96.7,1609) {360F};
\node[room] (r360g) at (201.7,1617.3) {360G};
\node[room] (r360b) at (268.3,1617.3) {360B};
\node[room] (r360d) at (200.7,1671.3) {360D};
\node[room] (r360c) at (266.7,1671.3) {360C};
\node[room] (r365) at (92,1721.3) {365};
\node[room] (r362) at (414,1706.7) {362};
\node[room] (r364) at (194.3,1752.3) {364};
\node[room] (r363) at (293.7,1751.7) {363};
\node[room] (r302) at (680.4,323) {302};
\node[room] (r303) at (770.3,312.5) {303};
\node[room] (r304) at (822.3,312) {304};
\node[room] (r305) at (881.3,311.7) {305};
\node[room] (r306) at (964.3,312.5) {306};
\node[room] (r307) at (1033.2,312) {307};
\node[room] (r308) at (1106.3,311.7) {308};
\node[room] (r301) at (649.8,423.6) {301};
\node[room] (r300) at (729.4,488.4) {300};
\node[room] (r300a) at (814.3,417.3) {300A};
\node[room] (r300b) at (925.3,417.3) {300B};
\node[room] (r300c) at (1015.2,418) {300C};
\node[room] (r300d) at (1112.8,432.7) {300D};
\node[room] (r300k) at (812.8,472.2) {300K};
\node[room] (r300j) at (879,471.4) {300J};
\node[room] (r300h) at (956.7,472.2) {300H};
\node[room] (r300g) at (1016,471.4) {300G};
\node[room] (r300e) at (1112.8,499.5) {300E};
\node[room] (r311) at (832.3,562.4) {311};
\node[room] (r309) at (926,561.2) {309};
\node[room] (r300f) at (1111.7,561.2) {300F};
\node[room] (r310) at (728.6,632) {310};
\node[roomsm] (r310b) at (852.6,630.8) {310B};
\node[roomsm] (r310c) at (907.3,630) {310C};
\node[roomsm] (r310d) at (959.7,630.8) {310D};
\node[roomsm] (r310h) at (1016.4,630.8) {310H};
\node[room] (r310e) at (1113.6,631.6) {310E};
\node[room] (r310a) at (781.4,708.7) {310A};
\node[roomsm] (r310g) at (862.1,714.6) {310G};
\node[roombf] (r310f) at (908.5,713.8) {310F};
\node[room] (r312) at (1115.5,707.5) {312};
\node[room] (r318) at (957,737.5) {318};
\node[room] (r317) at (1016.4,737.5) {317};
\node[room] (r313) at (1115.9,794) {313};
\node[room] (r327) at (975.8,814.7) {327};
\node[room] (r314) at (1115.5,875.8) {314};
\node[room] (r326) at (977.7,891.6) {326};
\node[room] (r315) at (1113.6,953.3) {315};
\node[room] (r321) at (736.6,992.5) {321};
\node[room] (r322) at (824.6,992.5) {322};
\node[room] (r323) at (892,992.5) {323};
\node[room] (r324) at (957.8,992.5) {324};
\node[room] (r325) at (1015.6,992.5) {325};
\node[room] (r316) at (1107.5,1045.5) {316};
\node[roombf] (r320a) at (795.2,1093) {320A};
\node[roombf] (r320b) at (843.4,1093) {320B};
\node[roombf] (r320c) at (893.5,1093) {320C};
\node[roombf] (r320d) at (947.5,1093) {320D};
\node[roombf] (r320e) at (1001,1093) {320E};
\node[room] (r320f) at (1119.7,1120) {320F};
\node[roombf] (r320k) at (893.5,1143) {320K};
\node[roombf] (r320j) at (947.9,1143) {320J};
\node[roombf] (r320h) at (1001.5,1143) {320H};
\node[room] (r333) at (746.2,1217.5) {333};
\node[room] (r320g) at (1116.6,1217.5) {320G};
\node[room] (r332) at (863.3,1243.6) {332};
\node[room] (r331) at (935.2,1243.6) {331};
\node[room] (r330) at (1004.5,1243.6) {330};
\node[room] (r328) at (1115.9,1302.5) {328};
\node[room] (r340a) at (799,1330.5) {340A};
\node[room] (r341) at (879,1330.5) {341};
\node[room] (r342) at (987.7,1330.5) {342};
\node[room] (r343) at (1115.5,1381.6) {343};
\node[roombf] (r340m) at (852.6,1429) {340M};
\node[roombf] (r340c) at (900.4,1429) {340C};
\node[roombf] (r340d) at (984.6,1429) {340D};
\node[room] (r340b) at (733.2,1441.7) {340B};
\node[roombf] (r340l) at (858.3,1482) {340L};
\node[roombf] (r340f) at (919.6,1482) {340F};
\node[roombf] (r340e) at (983,1482) {340E};
\node[room] (r350) at (718.6,1514.8) {350};
\node[room] (r344) at (1117.4,1546) {344};
\node[room] (r340k) at (832,1569) {340K};
\node[room] (r340g) at (896.6,1569) {340G};
\node[room] (r340h) at (965.5,1569) {340H};
\node[room] (r340j) at (1036.7,1569) {340J};
\end{tikzpicture}
\end{document}
